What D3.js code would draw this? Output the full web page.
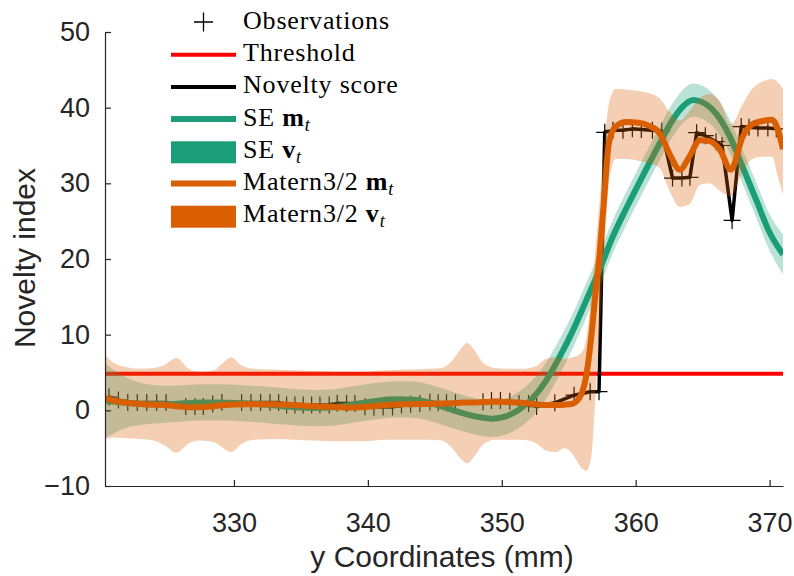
<!DOCTYPE html>
<html>
<head>
<meta charset="utf-8">
<script src="https://cdn.jsdelivr.net/npm/d3@7"></script>
<style>
    body { margin: 0; background: #fff; }
    svg { display: block; }
</style>
</head>
<body>
<svg id="chart" width="794" height="576"></svg>
<script>
'use strict';

// observations / novelty score (y coordinate in mm, novelty index)
const obsX = [320.67, 321.37, 322.07, 322.78, 323.49, 324.23, 324.93, 326.40, 327.09, 327.71,
    328.41, 329.10, 330.57, 331.27, 331.99, 332.69, 333.34, 333.93, 334.55, 335.17,
    335.80, 336.42, 337.11, 337.71, 338.41, 339.03, 339.78, 340.45, 341.14, 341.84,
    342.51, 343.19, 343.88, 344.63, 345.25, 345.87, 346.54, 348.60, 349.23, 349.90,
    350.60, 351.29, 352.00, 352.60, 353.96, 355.40, 356.60, 357.26, 357.69, 358.30,
    359.05, 359.75, 360.42, 361.25, 361.95, 362.75, 363.45, 364.05, 364.55, 365.20,
    366.00, 366.45, 367.20, 367.88, 368.46, 369.13, 369.87, 370.50];
const obsY = [1.76, 1.36, 1.05, 1.05, 1.05, 1.05, 1.05, 0.5, 0.5, 0.5,
    0.83, 1.05, 1.05, 1.05, 1.05, 1.05, 1.05, 0.7, 0.7, 0.7,
    0.7, 0.7, 0.7, 0.92, 0.9, 0.9, 0.48, 0.4, 0.45, 0.45,
    0.7, 0.8, 0.9, 1.1, 1.0, 1.0, 1.0, 1.15, 1.3, 1.3,
    1.2, 0.9, 0.9, 0.5, 1.0, 2.0, 2.46, 2.46, 36.74, 37.0,
    37.0, 37.2, 37.1, 37.0, 36.9, 30.7, 30.7, 30.8, 36.7, 36.3,
    35.5, 35.0, 25.1, 37.5, 37.4, 37.3, 37.3, 37.2];

const threshold = 4.85;

// SE kernel: mean and half width of the variance band
const seX = [320.37, 321, 322, 323, 324, 325, 326, 327.5, 329, 330.5,
    332, 334, 336, 337.5, 339, 340.5, 342, 343.5, 345, 346.4,
    347.9, 349.3, 350.3, 351.3, 352.3, 353.3, 354.3, 355.3, 356.3, 357.3,
    358.3, 359.3, 360.5, 361.8, 362.8, 363.6, 364.3, 365, 366, 367,
    368, 369, 370, 371.0];
const seMean = [1.3, 1.15, 1.0, 0.85, 0.8, 0.82, 0.9, 1.05, 1.05, 0.95,
    0.8, 0.5, 0.3, 0.4, 0.8, 1.2, 1.45, 1.4, 0.8, 0.0,
    -0.75, -1.1, -0.8, 0.1, 1.6, 3.9, 7.0, 10.5, 14.5, 18.6,
    23.0, 26.7, 30.9, 35.3, 38.5, 40.3, 41.0, 40.7, 39.2, 36.3,
    32.1, 27.8, 23.5, 20.6];
const seHalf = [5.0, 4.2, 3.3, 2.8, 2.55, 2.45, 2.4, 2.4, 2.4, 2.4,
    2.4, 2.4, 2.4, 2.4, 2.4, 2.4, 2.4, 2.4, 2.4, 2.4,
    2.4, 2.4, 2.4, 2.4, 2.4, 2.4, 2.35, 2.3, 2.3, 2.25,
    2.2, 2.2, 2.2, 2.2, 2.2, 2.2, 2.2, 2.2, 2.2, 2.2,
    2.25, 2.3, 2.4, 2.6];

// Matern3/2 kernel: mean and band limits
const maternX = [320.37, 321, 322, 323, 324, 324.8, 325.7, 326.6, 327.5, 328.5,
    329.2, 329.8, 330.5, 331.5, 333, 334.5, 336, 337.5, 338.5, 339.5,
    340.5, 341.5, 343, 344.5, 345.5, 346.3, 346.9, 347.4, 347.9, 348.6,
    349.5, 350.5, 351.5, 352.5, 353.3, 354.0, 354.7, 355.3, 355.9, 356.3,
    356.7, 357.0, 357.3, 357.6, 358.0, 358.5, 359.3, 360.2, 361.0, 361.8,
    362.5, 363.3, 364.0, 364.8, 365.5, 366.3, 367.1, 368.0, 368.7, 369.4,
    370.2, 370.6, 371.0];
const maternMean = [1.6, 1.3, 1.0, 0.85, 0.75, 0.7, 0.55, 0.4, 0.4, 0.55,
    0.7, 0.75, 0.8, 0.8, 0.8, 0.7, 0.55, 0.45, 0.35, 0.4,
    0.55, 0.7, 0.8, 0.85, 0.9, 0.95, 1.0, 1.05, 1.05, 1.1,
    1.15, 1.1, 1.0, 0.8, 0.7, 0.7, 0.75, 0.9, 2.0, 4.5,
    10.0, 15.5, 20.5, 27.0, 35.3, 37.5, 38.1, 38.0, 37.6, 36.6,
    34.0, 31.8, 33.5, 35.7, 35.6, 34.4, 31.8, 36.2, 37.8, 38.2,
    38.4, 37.2, 34.5];
const maternLo = [-3.8, -3.6, -3.7, -3.8, -4.0, -4.6, -5.6, -4.4, -4.0, -4.2,
    -5.0, -5.5, -4.5, -3.9, -3.8, -3.9, -4.0, -4.1, -4.1, -4.1,
    -4.0, -3.9, -3.9, -3.9, -4.0, -5.0, -6.3, -7.0, -6.2, -4.5,
    -3.9, -3.9, -3.9, -4.3, -5.3, -5.5, -5.0, -5.8, -7.5, -8.0,
    -6.0, 2.0, 10.0, 19.0, 30.0, 33.2, 33.2, 33.0, 32.7, 32.0,
    29.1, 26.9, 27.2, 29.8, 30.0, 29.0, 28.3, 31.5, 33.2, 33.5,
    33.5, 31.0, 28.5];
const maternHi = [7.3, 6.3, 5.7, 5.5, 5.6, 6.0, 6.9, 5.5, 5.1, 5.3,
    6.3, 7.0, 6.0, 5.5, 5.4, 5.3, 5.2, 5.1, 5.0, 5.0,
    5.2, 5.3, 5.4, 5.5, 5.6, 6.6, 8.0, 8.9, 8.1, 6.3,
    5.6, 5.5, 5.5, 5.8, 6.8, 7.0, 6.8, 7.0, 7.5, 9.5,
    15.5, 21.5, 27.5, 34.0, 40.5, 42.5, 42.4, 42.2, 41.9, 41.2,
    39.5, 38.3, 39.5, 41.3, 41.8, 40.8, 37.8, 40.5, 42.5, 43.4,
    43.8, 43.4, 42.5];

const xTicks = [330, 340, 350, 360, 370];
const yTicks = [-10, 0, 10, 20, 30, 40, 50];

const legendNames = ['Observations', 'Threshold', 'Novelty score', 'SE', 'SE', 'Matern3/2', 'Matern3/2'];
const legendMath = ['', '', '', 'm', 'v', 'm', 'v'];

(function() {
    const green = '#1b9e77';
    const orange = '#d95f02';
    const axisColor = '#262626';
    const sansFont = "'Liberation Sans', Arial, sans-serif";
    const serifFont = "'Liberation Serif', 'Times New Roman', serif";

    const svg = d3.select('#chart');
    const x = d3.scaleLinear().domain([320.37, 371.0]).range([105, 783]);
    const y = d3.scaleLinear().domain([-10, 50]).range([486, 32]);

    svg.append('defs').append('clipPath').attr('id', 'plotClip')
        .append('rect')
        .attr('x', x.range()[0]).attr('y', y.range()[1])
        .attr('width', x.range()[1] - x.range()[0])
        .attr('height', y.range()[0] - y.range()[1]);

    const plot = svg.append('g').attr('clip-path', 'url(#plotClip)');

    const obs = obsX.map((d, i) => ({x: d, y: obsY[i]}));
    const se = seX.map((d, i) => ({x: d, m: seMean[i], lo: seMean[i] - seHalf[i], hi: seMean[i] + seHalf[i]}));
    const mat = maternX.map((d, i) => ({x: d, m: maternMean[i], lo: maternLo[i], hi: maternHi[i]}));

    // observations
    plot.selectAll('path.obs')
        .data(obs).enter().append('path')
        .attr('class', 'obs')
        .attr('d', (d) => `M${x(d.x) - 8.5},${y(d.y)}h17M${x(d.x)},${y(d.y) - 8.5}v17`)
        .attr('stroke', '#000')
        .attr('stroke-width', 1.2)
        .attr('fill', 'none');

    // threshold
    plot.append('line')
        .attr('x1', x.range()[0]).attr('x2', x.range()[1])
        .attr('y1', y(threshold)).attr('y2', y(threshold))
        .attr('stroke', '#ff0000')
        .attr('stroke-width', 4);

    // novelty score
    plot.append('path')
        .datum(obs)
        .attr('d', d3.line().x((d) => x(d.x)).y((d) => y(d.y)))
        .attr('fill', 'none')
        .attr('stroke', '#000')
        .attr('stroke-width', 3.5)
        .attr('stroke-linejoin', 'round');

    const meanLine = d3.line().curve(d3.curveMonotoneX).x((d) => x(d.x)).y((d) => y(d.m));
    const band = d3.area().curve(d3.curveMonotoneX)
        .x((d) => x(d.x)).y0((d) => y(d.lo)).y1((d) => y(d.hi));

    plot.append('path').datum(se)
        .attr('d', meanLine)
        .attr('fill', 'none').attr('stroke', green).attr('stroke-width', 6);
    plot.append('path').datum(se)
        .attr('d', band)
        .attr('fill', green).attr('fill-opacity', 0.3);

    plot.append('path').datum(mat)
        .attr('d', meanLine)
        .attr('fill', 'none').attr('stroke', orange).attr('stroke-width', 6);
    plot.append('path').datum(mat)
        .attr('d', band)
        .attr('fill', orange).attr('fill-opacity', 0.3);

    // axes
    const xAxis = svg.append('g')
        .attr('transform', `translate(0, ${y.range()[0]})`)
        .call(d3.axisBottom(x).tickValues(xTicks).tickSizeInner(-6).tickSizeOuter(0).tickPadding(27));
    const yAxis = svg.append('g')
        .attr('transform', `translate(${x.range()[0]}, 0)`)
        .call(d3.axisLeft(y).tickValues(yTicks).tickSizeInner(-6).tickSizeOuter(0).tickPadding(15));
    for (const ax of [xAxis, yAxis]) {
        ax.attr('font-family', sansFont).attr('font-size', 27);
        ax.select('.domain').attr('stroke', axisColor).attr('stroke-width', 1.2);
        ax.selectAll('.tick line').attr('stroke', axisColor).attr('stroke-width', 1.2);
        ax.selectAll('.tick text').attr('fill', axisColor);
    }

    svg.append('text')
        .attr('x', 442).attr('y', 567)
        .attr('text-anchor', 'middle')
        .attr('font-family', sansFont).attr('font-size', 30)
        .attr('fill', axisColor)
        .text('y Coordinates (mm)');
    svg.append('text')
        .attr('transform', 'translate(35, 258) rotate(-90)')
        .attr('text-anchor', 'middle')
        .attr('font-family', sansFont).attr('font-size', 30)
        .attr('fill', axisColor)
        .text('Novelty index');

    // legend
    const legend = svg.append('g');
    const styles = [
        {kind: 'marker'},
        {kind: 'line', color: '#ff0000', width: 4},
        {kind: 'line', color: '#000', width: 4},
        {kind: 'line', color: green, width: 6},
        {kind: 'patch', color: green},
        {kind: 'line', color: orange, width: 6},
        {kind: 'patch', color: orange},
    ];
    legendNames.forEach((name, i) => {
        const base = 29 + i * 32.2;
        const st = styles[i];
        if (st.kind === 'marker') {
            legend.append('path')
                .attr('d', `M194,${base - 7}h19M203.5,${base - 16.5}v19`)
                .attr('stroke', '#000').attr('stroke-width', 1.3);
        } else if (st.kind === 'line') {
            legend.append('line')
                .attr('x1', 171).attr('x2', 236)
                .attr('y1', base - 6.5).attr('y2', base - 6.5)
                .attr('stroke', st.color).attr('stroke-width', st.width);
        } else {
            legend.append('rect')
                .attr('x', 171).attr('y', base - 16.5)
                .attr('width', 65).attr('height', 22)
                .attr('fill', st.color);
        }
        const t = legend.append('text')
            .attr('x', 243).attr('y', base)
            .attr('font-family', serifFont).attr('font-size', 26)
            .attr('letter-spacing', 0.8)
            .attr('fill', '#000');
        t.append('tspan').text(name);
        if (legendMath[i]) {
            t.append('tspan').attr('font-weight', 'bold').text(' ' + legendMath[i]);
            t.append('tspan').attr('font-style', 'italic').attr('font-size', 18)
                .attr('dy', 5).text('t');
        }
    });
}());
</script>
</body>
</html>
